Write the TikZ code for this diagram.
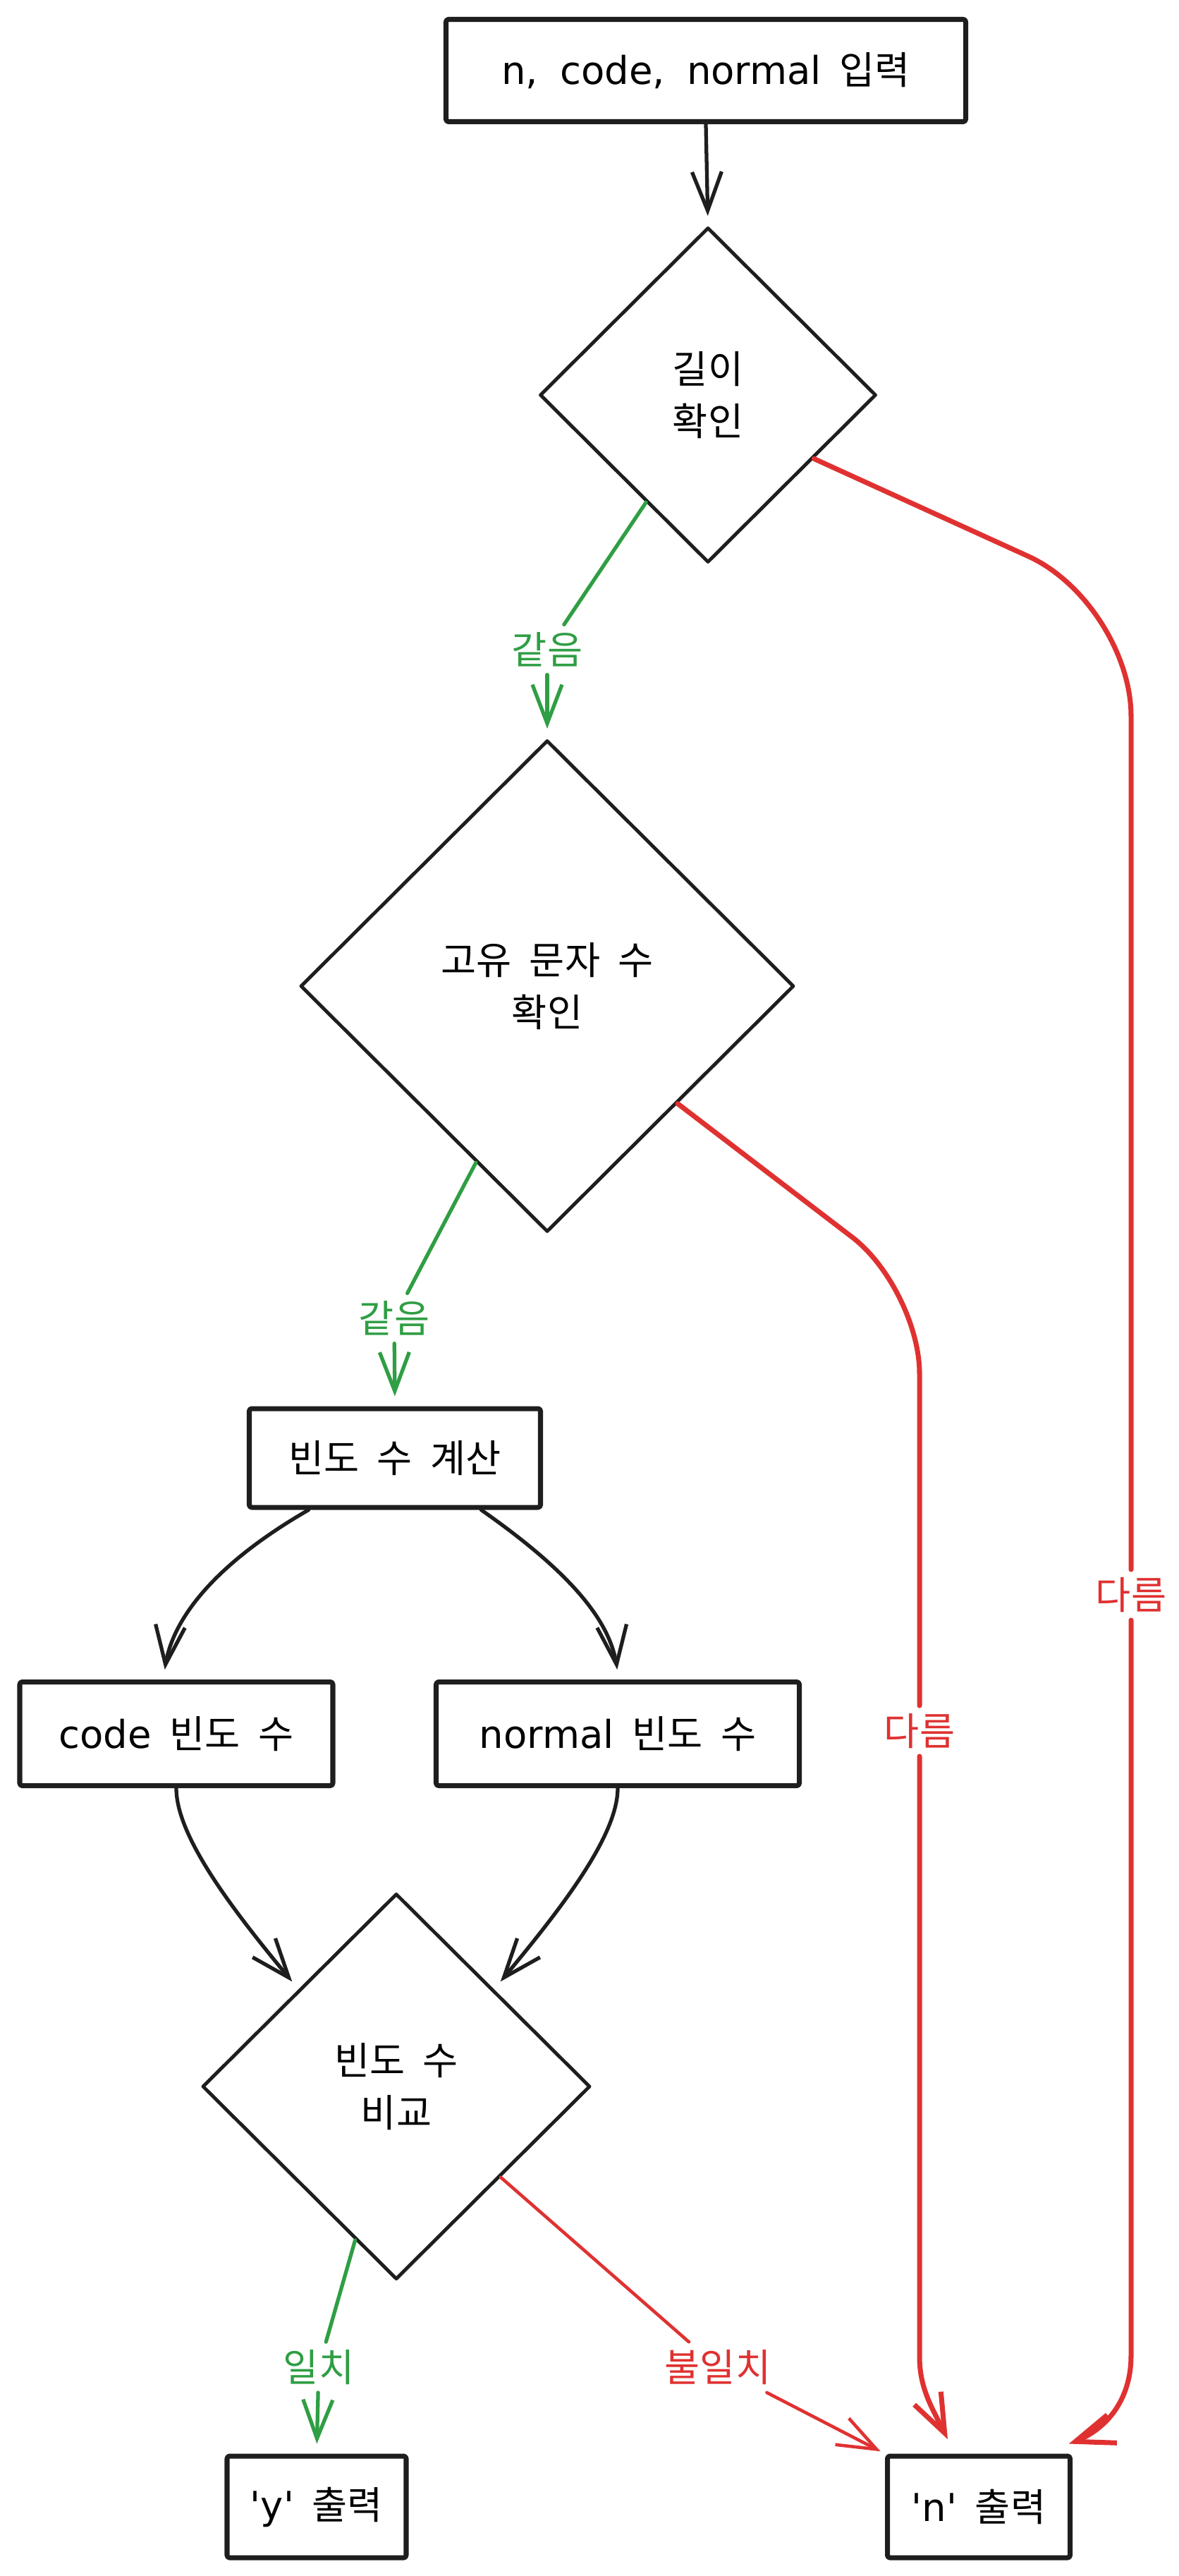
\documentclass[tikz,border=0pt]{standalone}
\usepackage{fontspec}
\setmainfont{Noto Sans CJK KR}[WordSpace=2.1]
\newfontfamily\latin{DejaVu Sans}[WordSpace=1.8]
\usetikzlibrary{shapes.geometric,arrows.meta,bending,calc}
\definecolor{ink}{HTML}{1E1E1E}
\definecolor{okgreen}{HTML}{2F9E44}
\definecolor{nored}{HTML}{E03131}

\begin{document}
\begin{tikzpicture}[>={Straight Barb[length=5.5mm, width=4.2mm]}, font=\fontsize{15.5}{21}\selectfont,
		line cap=round, line join=round,
		box/.style={draw=ink, line width=2pt, rounded corners=1pt, align=center, inner sep=0pt},
		decision/.style={diamond, draw=ink, line width=1.4pt, align=center, inner sep=0pt},
		cond/.style={inner sep=3pt},
		flow/.style={->, draw=ink, line width=1.5pt, shorten >=4pt},
		yesflow/.style={draw=okgreen, line width=1.5pt},
		noflow/.style={draw=nored, line width=2pt}]
		\fill[white] (0,0) rectangle (16.71,-36.52);
		\useasboundingbox (0,0) rectangle (16.71,-36.52);
		% steps and checks
		\node[box, minimum width=7.37cm, minimum height=1.45cm] (input) at (10.01,-1.00) {{\latin n, code, normal} 입력};
		\node[decision, minimum width=4.77cm, minimum height=4.75cm] (len) at (10.04,-5.60) {길이\\확인};
		\node[decision, minimum width=7.00cm, minimum height=6.97cm] (uniq) at (7.76,-13.98) {고유 문자 수\\확인};
		\node[box, minimum width=4.13cm, minimum height=1.40cm] (freq) at (5.60,-20.67) {빈도 수 계산};
		\node[box, minimum width=4.44cm, minimum height=1.47cm] (code) at (2.50,-24.58) {{\latin code} 빈도 수};
		\node[box, minimum width=5.15cm, minimum height=1.47cm] (norm) at (8.76,-24.58) {{\latin normal} 빈도 수};
		\node[decision, minimum width=5.50cm, minimum height=5.47cm] (cmp) at (5.62,-29.58) {빈도 수\\비교};
		\node[box, minimum width=2.54cm, minimum height=1.44cm] (yout) at (4.49,-35.54) {{\latin\textquotesingle y\textquotesingle} 출력};
		\node[box, minimum width=2.59cm, minimum height=1.44cm] (nout) at (13.88,-35.54) {{\latin\textquotesingle n\textquotesingle} 출력};
		% branch labels
		\node[cond, text=okgreen] (same1) at (7.76,-9.21) {같음};
		\node[cond, text=okgreen] (same2) at (5.59,-18.69) {같음};
		\node[cond, text=okgreen] (match) at (4.52,-33.56) {일치};
		\node[cond, text=nored] (miss) at (10.18,-33.56) {불일치};
		\node[cond, text=nored] (diff1) at (16.04,-22.61) {다름};
		\node[cond, text=nored] (diff2) at (13.04,-24.54) {다름};
		% bends of the long red lines
		\coordinate (r1) at (16.04,-8.55);
		\coordinate (r2) at (16.04,-33.40);
		\coordinate (r3) at (13.04,-18.27);
		\coordinate (r4) at (13.04,-33.40);
		% main flow
		\draw[flow] (input.south) -- (len.north);
		\draw[yesflow] (len.240) -- (same1);
		\draw[yesflow, ->, shorten >=4pt] (same1) -- (uniq.north);
		\draw[yesflow] (uniq.248) -- (same2);
		\draw[yesflow, ->, shorten >=4pt] (same2) -- (freq.north);
		\draw[flow] (freq.211) .. controls +(210:1.7) and +(90:0.7) .. ([xshift=-0.17cm]code.north);
		\draw[flow] (freq.329) .. controls +(-35:1.7) and +(90:0.7) .. (norm.north);
		\draw[flow] (code.south) .. controls +(-90:0.7) and +(130:1.4) .. (cmp.north west);
		\draw[flow] (norm.south) .. controls +(-90:0.7) and +(50:1.4) .. (cmp.north east);
		\draw[yesflow] (cmp.255) -- (match);
		\draw[yesflow, ->, shorten >=4pt] (match) -- (yout.north);
		% mismatch branches
		\draw[noflow, line width=1.3pt] (cmp.319) -- (miss);
		\draw[noflow, line width=1.3pt, ->, shorten >=2pt] (miss) -- (nout.north west);
		\draw[noflow, rounded corners=1.6cm] (len.329) -- (r1) -- (diff1);
		\draw[noflow, ->, shorten >=2pt] (diff1) -- (r2) to[out=-90, in=15] ($(nout.north east)+(-0.12,0.12)$);
		\draw[noflow, rounded corners=1.2cm] (uniq.318) -- (r3) -- (diff2);
		\draw[noflow, ->, shorten >=2pt] (diff2) -- (r4) to[out=-90, in=115] ($(nout.north)+(-0.41,0.14)$);
	\end{tikzpicture}
\end{document}
